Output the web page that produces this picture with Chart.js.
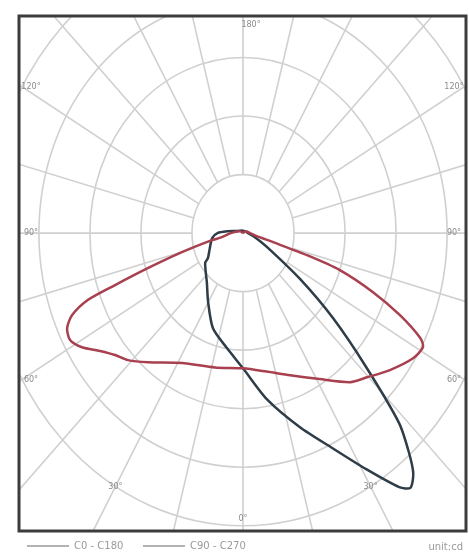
<!DOCTYPE html>
<html>
<head>
<meta charset="utf-8">
<script src="https://cdn.jsdelivr.net/npm/chart.js@4"></script>
<style>
html,body{margin:0;padding:0;background:#fff;}
#wrap{width:469px;height:553px;position:relative;}
</style>
</head>
<body>
<div id="wrap"><canvas id="c" width="469" height="553"></canvas></div>
<script>
// Polar luminous intensity data (angle from nadir, negative = left half-plane), values in cd
const ringValues = [100, 200, 300, 400, 500];
const spokeStep = 15;
const angleLabels = ["0°", "30°", "60°", "90°", "120°", "180°"];
const angleLabelAngles = [0, 30, 60, 90, 120, 180];

const c0Angles = [-180, -120, -100, -90, -80, -78.8, -74.8, -72.2, -70.5, -69.4, -67.3, -64.8, -61.7, -58.3, -54.3, -50.3, -46.1, -40.2, -28.3, -13.5, 0, 11, 20.8, 31, 39.5, 44.6, 50.9, 57.3, 61.1, 62.7, 65.5, 68.4, 71.6, 73.3, 75.3, 80, 90, 120, 180];
const c0Values = [0, 6, 14, 24, 45, 62, 124, 196, 266, 325, 363, 381, 385, 371, 345, 326, 313, 289, 252, 236, 231, 241, 260, 291, 330, 346, 371, 396, 403, 391, 338, 274, 200, 131, 61, 25, 14, 6, 0];

const c90Angles = [-180, -150, -120, -105, -96, -90, -82, -68.4, -58.1, -55.5, -40.1, -30.2, -19.9, -9.1, 0, 9.4, 18.6, 25.6, 30.9, 35.2, 37, 39.1, 41, 43.3, 46.5, 50.5, 54.9, 63.1, 75, 90, 120, 180];
const c90Values = [4, 5, 8, 14, 30, 50, 61, 70, 81, 90, 110, 136, 173, 199, 231, 288, 350, 408, 470, 531, 545, 529, 495, 446, 333, 229, 137, 53, 22, 10, 6, 4];

const legendNames = ["C0 - C180", "C90 - C270"];
const unitText = "unit:cd";

function toXY(angles, values) {
  return angles.map((a, i) => {
    const t = a * Math.PI / 180;
    return { x: values[i] * Math.sin(t), y: -values[i] * Math.cos(t) };
  });
}

const gridPlugin = {
  id: 'polarGrid',
  beforeDatasetsDraw(chart) {
    const { ctx, chartArea: ca, scales: { x, y } } = chart;
    const cx = x.getPixelForValue(0), cy = y.getPixelForValue(0);
    const sx = (v) => x.getPixelForValue(v) - cx;
    const sy = (v) => y.getPixelForValue(-v) - cy;
    ctx.save();
    ctx.beginPath();
    ctx.rect(ca.left, ca.top, ca.right - ca.left, ca.bottom - ca.top);
    ctx.clip();
    ctx.strokeStyle = '#d0d0d0';
    ctx.lineWidth = 1.6;
    ringValues.forEach(r => {
      ctx.beginPath();
      ctx.ellipse(cx, cy, sx(r), sy(r), 0, 0, Math.PI * 2);
      ctx.stroke();
    });
    const r0 = ringValues[0], r1 = 2000;
    for (let a = 0; a < 360; a += spokeStep) {
      const t = a * Math.PI / 180;
      ctx.beginPath();
      ctx.moveTo(cx + sx(r0 * Math.sin(t)), cy + sy(r0 * Math.cos(t)));
      ctx.lineTo(cx + sx(r1 * Math.sin(t)), cy + sy(r1 * Math.cos(t)));
      ctx.stroke();
    }
    // angle labels
    ctx.fillStyle = '#8a8a8a';
    ctx.font = '8px "DejaVu Sans", sans-serif';
    ctx.textAlign = 'center';
    ctx.textBaseline = 'middle';
    const rl = ringValues[ringValues.length - 1];
    angleLabelAngles.forEach((a, i) => {
      const sides = (a === 0 || a === 180) ? [1] : [-1, 1];
      sides.forEach(s => {
        const t = s * a * Math.PI / 180;
        let px = cx + sx(rl * Math.sin(t));
        let py = cy + sy(rl * Math.cos(t));
        px = Math.min(Math.max(px, ca.left + 12), ca.right - 12);
        py = Math.min(Math.max(py, ca.top + 9), ca.bottom - 12);
        if (a === 180) px += 8;
        ctx.fillText(angleLabels[i], px, py);
      });
    });
    ctx.restore();
  },
  afterDraw(chart) {
    const { ctx, chartArea: ca } = chart;
    ctx.save();
    ctx.strokeStyle = '#3c3c3c';
    ctx.lineWidth = 3;
    ctx.strokeRect(ca.left, ca.top, ca.right - ca.left, ca.bottom - ca.top);
    // legend
    const ly = 546;
    ctx.strokeStyle = '#9a9a9a';
    ctx.lineWidth = 1.5;
    ctx.fillStyle = '#9a9a9a';
    ctx.font = '10px "DejaVu Sans", sans-serif';
    ctx.textBaseline = 'middle';
    ctx.textAlign = 'left';
    const lx = [27, 143];
    legendNames.forEach((n, i) => {
      ctx.beginPath();
      ctx.moveTo(lx[i], ly);
      ctx.lineTo(lx[i] + 42, ly);
      ctx.stroke();
      ctx.fillText(n, lx[i] + 47, ly);
    });
    ctx.textAlign = 'right';
    ctx.fillText(unitText, 463, ly + 1);
    ctx.restore();
  }
};

new Chart(document.getElementById('c'), {
  type: 'scatter',
  data: {
    datasets: [
      { label: legendNames[0], data: toXY(c0Angles, c0Values), showLine: true, borderColor: '#a8404f', borderWidth: 2.5, pointRadius: 0, tension: 0.25, fill: false },
      { label: legendNames[1], data: toXY(c90Angles, c90Values), showLine: true, borderColor: '#2e3d48', borderWidth: 2.5, pointRadius: 0, tension: 0.25, fill: false }
    ]
  },
  options: {
    responsive: false,
    animation: false,
    devicePixelRatio: 1,
    layout: { padding: { left: 19, top: 16, right: 3, bottom: 22 } },
    plugins: { legend: { display: false }, tooltip: { enabled: false } },
    scales: {
      x: { type: 'linear', min: -439, max: 437, display: false },
      y: { type: 'linear', min: -509, max: 371, display: false }
    }
  },
  plugins: [gridPlugin]
});
</script>
</body>
</html>
